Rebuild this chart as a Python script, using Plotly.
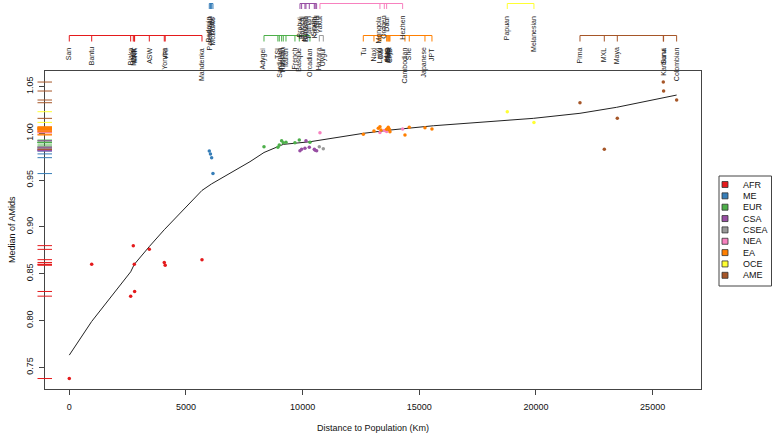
import plotly.graph_objects as go

# ---------------- data ----------------
groups = ["AFR", "ME", "EUR", "CSA", "CSEA", "NEA", "EA", "OCE", "AME"]
group_colors = ["#E41A1C", "#377EB8", "#4DAF4A", "#984EA3", "#999999",
                "#F781BF", "#FF7F00", "#FFFF33", "#A65628"]

afr_names = ["San", "Bantu", "Biaka", "Mbuti", "LWK", "MKK", "ASW", "Yoruba", "YRI", "Mandenka"]
afr_dist = [0, 960, 2630, 2743, 2786, 2800, 3429, 4071, 4110, 5687]
afr_med = [0.738, 0.860, 0.826, 0.880, 0.860, 0.831, 0.876, 0.862, 0.859, 0.865]

me_names = ["Bedouin", "Palestinian", "Druze", "Mozabite"]
me_dist = [6000, 6050, 6100, 6157]
me_med = [0.981, 0.978, 0.974, 0.957]

eur_names = ["Adygei", "TSI", "Sardinian", "Tuscan", "Russian", "Italian", "French", "Basque", "Orcadian"]
eur_dist = [8344, 8940, 9000, 9100, 9171, 9286, 9671, 9857, 10314]
eur_med = [0.9857, 0.985, 0.9875, 0.992, 0.990, 0.9904, 0.990, 0.9928, 0.9904]

csa_names = ["Brahui", "Balochi", "Makrani", "Burusho", "Pathan", "Sindhi", "Kalash", "GIH"]
csa_dist = [9886, 9957, 10100, 10143, 10286, 10500, 10540, 10600]
csa_med = [0.9814, 0.9829, 0.984, 0.992, 0.985, 0.9829, 0.982, 0.9815]

csea_names = ["Hazara", "Uygur"]
csea_dist = [10714, 10886]
csea_med = [0.9857, 0.9835]

nea_names = ["Yakut", "Mongola", "Oroqen", "Daur", "Hezhen"]
nea_dist = [10743, 13314, 13500, 13600, 14286]
nea_med = [1.0006, 1.001, 1.003, 1.002, 1.0046]

ea_names = ["Tu", "Naxi", "Yi", "Lahu", "Dai", "Han", "CHS", "Miao", "Tujia", "CHB",
            "Cambodian", "She", "Japanese", "JPT"]
ea_dist = [12600, 13057, 13243, 13314, 13357, 13600, 13650, 13671, 13714, 13743,
           14386, 14571, 15243, 15543]
ea_med = [0.999, 1.0025, 1.0053, 1.007, 1.0035, 1.0043, 1.005, 1.0064, 1.0043, 1.0017,
          0.9982, 1.0064, 1.006, 1.0046]

oce_names = ["Papuan", "Melanesian"]
oce_dist = [18771, 19914]
oce_med = [1.0231, 1.0117]

ame_names = ["Pima", "MXL", "Maya", "Karitiana", "Surui", "Colombian"]
ame_dist = [21886, 22929, 23486, 25457, 25470, 26029]
ame_med = [1.0327, 0.9829, 1.016, 1.0548, 1.0452, 1.0356]

curve_x = [0, 960, 2630, 2786, 3429, 4071, 5687, 6100, 7744, 8344, 9171,
           10314, 12600, 13743, 15600, 17600, 19886, 21886, 23457, 26029]
curve_y = [0.763, 0.799, 0.852, 0.860, 0.879, 0.897, 0.939, 0.946, 0.9697, 0.9795, 0.9882,
           0.991, 1.000, 1.0035, 1.0081, 1.0117, 1.016, 1.0214, 1.0278, 1.0409]

x_ticks = [0, 5000, 10000, 15000, 20000, 25000]
y_ticks = [0.75, 0.80, 0.85, 0.90, 0.95, 1.00, 1.05]

group_data = [
    (afr_names, afr_dist, afr_med),
    (me_names, me_dist, me_med),
    (eur_names, eur_dist, eur_med),
    (csa_names, csa_dist, csa_med),
    (csea_names, csea_dist, csea_med),
    (nea_names, nea_dist, nea_med),
    (ea_names, ea_dist, ea_med),
    (oce_names, oce_dist, oce_med),
    (ame_names, ame_dist, ame_med),
]

# ---------------- layout geometry ----------------
W, H = 775, 437
ML, MR, MT, MB = 45, 74, 71, 48
PW = W - ML - MR
PH = H - MT - MB
FONT = "Liberation Sans, Arial, sans-serif"


def pxx(px):
    return (px - ML) / PW


def pxy(py):
    return (H - MB - py) / PH


fig = go.Figure()

# curve
fig.add_trace(go.Scatter(x=curve_x, y=curve_y, mode="lines",
                         line=dict(color="#222222", width=1), showlegend=False,
                         hoverinfo="skip"))

shapes = []
annotations = []

for gi, (names, dist, med) in enumerate(group_data):
    col = group_colors[gi]
    fig.add_trace(go.Scatter(x=dist, y=med, mode="markers", name=groups[gi],
                             marker=dict(color=col, size=3.5, line=dict(width=0)),
                             showlegend=False, text=names))
    # rug on the y axis
    for v in med:
        shapes.append(dict(type="line", xref="paper", yref="y",
                           x0=pxx(37.5), x1=pxx(52), y0=v, y1=v,
                           line=dict(color=col, width=1), layer="above"))
    # top brackets with labels (alternating levels)
    level = gi % 2
    if level == 0:
        yl, yt, ylab = 35.5, 41.5, 45.5
    else:
        yl, yt, ylab = 3.5, 9.0, 14.0
    shapes.append(dict(type="line", xref="x", yref="paper",
                       x0=min(dist), x1=max(dist), y0=pxy(yl), y1=pxy(yl),
                       line=dict(color=col, width=1)))
    for d, n in zip(dist, names):
        shapes.append(dict(type="line", xref="x", yref="paper",
                           x0=d, x1=d, y0=pxy(yl), y1=pxy(yt),
                           line=dict(color=col, width=1)))
        annotations.append(dict(x=d, y=pxy(ylab), xref="x", yref="paper",
                                text=n, showarrow=False, textangle=-90,
                                xanchor="center", yanchor="top",
                                font=dict(family=FONT, size=7, color="#222222")))

# legend drawn manually
shapes.append(dict(type="rect", xref="paper", yref="paper",
                   x0=pxx(719), x1=pxx(771.5), y0=pxy(176), y1=pxy(286),
                   line=dict(color="#444444", width=1), fillcolor="white"))
for gi, g in enumerate(groups):
    cy = 184.5 + gi * 11.35
    shapes.append(dict(type="rect", xref="paper", yref="paper",
                       x0=pxx(722), x1=pxx(728), y0=pxy(cy - 3), y1=pxy(cy + 3),
                       line=dict(color="#333333", width=0.8), fillcolor=group_colors[gi]))
    annotations.append(dict(x=pxx(740.5), y=pxy(cy), xref="paper", yref="paper",
                            text=g, showarrow=False, xanchor="left", yanchor="middle",
                            font=dict(family=FONT, size=9, color="#111111")))

# axis titles
annotations.append(dict(x=0.5, y=pxy(428), xref="paper", yref="paper",
                        text="Distance to Population (Km)", showarrow=False,
                        xanchor="center", yanchor="middle",
                        font=dict(family=FONT, size=9, color="#111111")))
annotations.append(dict(x=pxx(12), y=pxy(230), xref="paper", yref="paper",
                        text="Median of AMids", showarrow=False, textangle=-90,
                        xanchor="center", yanchor="middle",
                        font=dict(family=FONT, size=9, color="#111111")))

fig.update_layout(
    width=W, height=H,
    margin=dict(l=ML, r=MR, t=MT, b=MB),
    paper_bgcolor="white", plot_bgcolor="white",
    shapes=shapes, annotations=annotations,
    font=dict(family=FONT, size=9, color="#111111"),
    showlegend=False,
)
fig.update_xaxes(range=[-1041, 27073], tickvals=x_ticks,
                 ticktext=[str(t) for t in x_ticks],
                 showgrid=False, zeroline=False, showline=True, mirror=True,
                 linecolor="#444444", linewidth=1, ticks="outside", ticklen=5,
                 tickcolor="#444444", tickfont=dict(family=FONT, size=9),
                 ticklabelstandoff=4)
fig.update_yaxes(range=[0.7268, 1.0666], tickvals=y_ticks,
                 ticktext=["%.2f" % t for t in y_ticks], tickangle=-90,
                 showgrid=False, zeroline=False, showline=True, mirror=True,
                 linecolor="#444444", linewidth=1, ticks="outside", ticklen=5,
                 tickcolor="#444444", tickfont=dict(family=FONT, size=9),
                 ticklabelstandoff=2)

fig.write_html("out.html", config={"displayModeBar": False},
               post_script="document.body.style.margin='0';document.body.style.padding='0';")
